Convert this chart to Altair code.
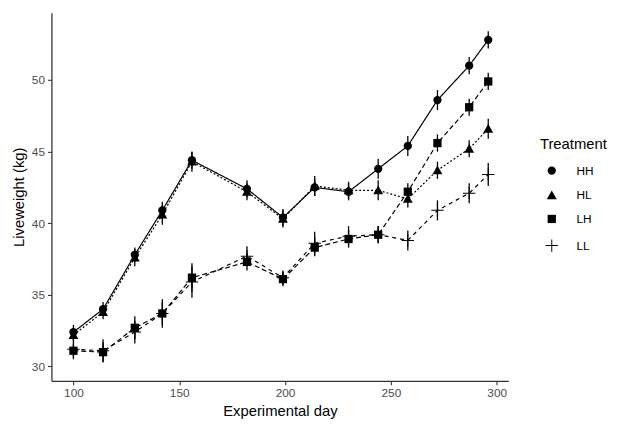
import altair as alt
import pandas as pd

days = [100, 114, 129, 142, 156, 182, 199, 214, 230, 244, 258, 272, 287, 296]
treatments = ["HH", "HL", "LH", "LL"]
hh = [32.4, 34.0, 37.8, 40.9, 44.4, 42.4, 40.4, 42.5, 42.2, 43.8, 45.4, 48.6, 51.0, 52.8]
hl = [32.2, 33.8, 37.6, 40.6, 44.3, 42.2, 40.3, 42.6, 42.3, 42.3, 41.7, 43.7, 45.2, 46.6]
lh = [31.1, 31.0, 32.7, 33.7, 36.2, 37.3, 36.1, 38.3, 38.9, 39.2, 42.2, 45.6, 48.1, 49.9]
ll = [31.2, 31.1, 32.4, 33.7, 35.9, 37.7, 36.2, 38.6, 39.1, 39.2, 38.8, 40.9, 42.1, 43.4]
se_hh = [0.5, 0.5, 0.5, 0.6, 0.6, 0.6, 0.6, 0.6, 0.6, 0.7, 0.7, 0.7, 0.6, 0.6]
se_hl = [0.5, 0.5, 0.6, 0.7, 0.7, 0.6, 0.6, 0.7, 0.6, 0.7, 0.6, 0.6, 0.6, 0.7]
se_lh = [0.5, 0.7, 0.8, 0.8, 1.0, 0.6, 0.5, 0.6, 0.6, 0.6, 0.6, 0.6, 0.6, 0.6]
se_ll = [0.7, 0.8, 0.8, 1.0, 1.1, 0.7, 0.5, 0.8, 0.7, 0.6, 0.7, 0.7, 0.7, 0.8]

rows = []
for t, vals, ses in zip(treatments, [hh, hl, lh, ll], [se_hh, se_hl, se_lh, se_ll]):
    for d, v, s in zip(days, vals, ses):
        rows.append({"day": d, "weight": v, "lo": v - s, "hi": v + s,
                     "Treatment": t, "lt": t})
df = pd.DataFrame(rows)

plus = "M-1.5,-0.12H1.5V0.12H-1.5Z M-0.12,-1.5H0.12V1.5H-0.12Z"
tri = "M0,-1.15L1.2,0.95L-1.2,0.95Z"

xscale = alt.Scale(domain=[89.6, 305.5], nice=False, zero=False)
yscale = alt.Scale(domain=[29.0, 54.7], nice=False, zero=False)
xaxis = alt.Axis(values=[100, 150, 200, 250, 300], title="Experimental day")
yaxis = alt.Axis(values=[30, 35, 40, 45, 50], title="Liveweight (kg)")

base = alt.Chart(df)

bars = base.mark_rule(color="black", strokeWidth=1.3).encode(
    x=alt.X("day:Q", scale=xscale, axis=xaxis),
    y=alt.Y("lo:Q", scale=yscale, axis=yaxis),
    y2="hi:Q",
)

# strokeDash scale uses the data-driven domain (alphabetical HH, HL, LH, LL)
lines = base.mark_line(color="black", strokeWidth=1.2).encode(
    x=alt.X("day:Q", scale=xscale),
    y=alt.Y("weight:Q", scale=yscale),
    strokeDash=alt.StrokeDash(
        "lt:N",
        scale=alt.Scale(range=[[1, 0], [2, 2], [5, 3], [4, 4]]),
        legend=None,
    ),
)

points = base.mark_point(filled=True, color="black", opacity=1, size=70).encode(
    x=alt.X("day:Q", scale=xscale),
    y=alt.Y("weight:Q", scale=yscale),
    shape=alt.Shape(
        "Treatment:N",
        scale=alt.Scale(domain=treatments, range=["circle", tri, "square", plus]),
        legend=alt.Legend(
            orient="none", legendX=495, legendY=126, title="Treatment",
            titleFontSize=15, titleFontWeight="normal", titleColor="black",
            labelFontSize=12, labelColor="black", symbolSize=70,
            symbolFillColor="black", symbolStrokeColor="black", symbolOpacity=1,
            rowPadding=9, titlePadding=13, symbolOffset=6, labelOffset=19,
        ),
    ),
)

chart = alt.layer(bars, lines, points).properties(
    width=463, height=373,
    autosize=alt.AutoSizeParams(type="none"),
    padding={"left": 44, "top": 2, "right": 102, "bottom": 40},
).configure_view(stroke=None).configure_axis(
    grid=False, domainColor="#333333", domainWidth=1.3, tickColor="#333333",
    tickSize=4, tickWidth=1.1, labelColor="#4d4d4d", labelFontSize=12,
    labelFont="Liberation Sans", titleFont="Liberation Sans", titleFontSize=15,
    titleFontWeight="normal", titleColor="black", labelPadding=3, titlePadding=5,
).configure_legend(labelFont="Liberation Sans", titleFont="Liberation Sans")

chart.save("out.html", embed_options={"renderer": "svg", "actions": False})
